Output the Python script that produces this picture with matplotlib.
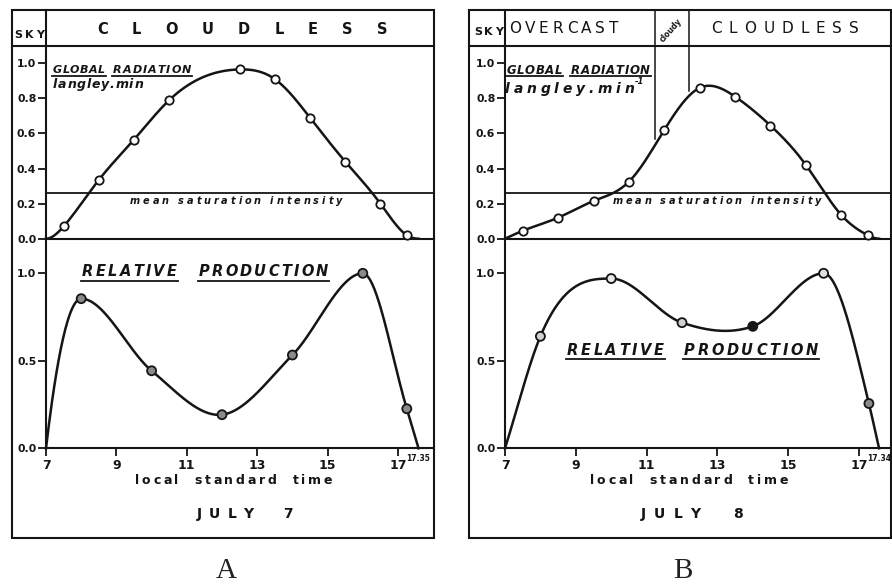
import numpy as np
import matplotlib
matplotlib.use("Agg")
import matplotlib.pyplot as plt
from matplotlib.lines import Line2D
from matplotlib.patches import Rectangle

W, H = 892, 587
INK = "#151515"

# ---- data ----
sunrise = 7.0
sunset_a = 17 + 35 / 60
sunset_b = 17 + 34 / 60
saturation = 0.26

rad_t_a = [7.5, 8.5, 9.5, 10.5, 12.5, 13.5, 14.5, 15.5, 16.5, 17.25]
rad_a = [0.07, 0.335, 0.565, 0.79, 0.965, 0.91, 0.69, 0.44, 0.20, 0.02]
prod_t_a = [8, 10, 12, 14, 16, 17.25]
prod_a = [0.855, 0.443, 0.192, 0.533, 1.0, 0.226]

rad_t_b = [7.5, 8.5, 9.5, 10.5, 11.5, 12.5, 13.5, 14.5, 15.5, 16.5, 17.25]
rad_b = [0.045, 0.12, 0.215, 0.325, 0.62, 0.86, 0.81, 0.645, 0.42, 0.135, 0.02]
prod_t_b = [8, 10, 12, 14, 16, 17.28]
prod_b = [0.64, 0.97, 0.718, 0.697, 1.0, 0.256]
cloudy_b = [11.25, 12.2]

xticks = [7, 9, 11, 13, 15, 17]
rad_ticks = [0.0, 0.2, 0.4, 0.6, 0.8, 1.0]
prod_ticks = [0.0, 0.5, 1.0]

plt.rcParams["font.family"] = "DejaVu Sans"
plt.rcParams["font.weight"] = "bold"

fig = plt.figure(figsize=(W / 100, H / 100), dpi=100)
fig.patch.set_facecolor("white")
renderer = fig.canvas.get_renderer()


def fx(x):
    return x / W


def fy(y):
    return 1 - y / H


def rect(x0, y0, x1, y1):
    return [x0 / W, 1 - y1 / H, (x1 - x0) / W, (y1 - y0) / H]


def spline(xk, yk, xs, d0=None, d1=None):
    # cubic spline, natural ends unless an end slope is given
    xk = np.asarray(xk, float)
    yk = np.asarray(yk, float)
    n = len(xk)
    h = np.diff(xk)
    A = np.zeros((n, n))
    b = np.zeros(n)
    for i in range(1, n - 1):
        A[i, i - 1] = h[i - 1]
        A[i, i] = 2 * (h[i - 1] + h[i])
        A[i, i + 1] = h[i]
        b[i] = 6 * ((yk[i + 1] - yk[i]) / h[i] - (yk[i] - yk[i - 1]) / h[i - 1])
    if d0 is None:
        A[0, 0] = 1
    else:
        A[0, 0], A[0, 1] = 2 * h[0], h[0]
        b[0] = 6 * ((yk[1] - yk[0]) / h[0] - d0)
    if d1 is None:
        A[-1, -1] = 1
    else:
        A[-1, -2], A[-1, -1] = h[-1], 2 * h[-1]
        b[-1] = 6 * (d1 - (yk[-1] - yk[-2]) / h[-1])
    M = np.linalg.solve(A, b)
    xs = np.asarray(xs, float)
    i = np.clip(np.searchsorted(xk, xs) - 1, 0, n - 2)
    hi = h[i]
    t0 = xk[i + 1] - xs
    t1 = xs - xk[i]
    return (M[i] * t0 ** 3 / (6 * hi) + M[i + 1] * t1 ** 3 / (6 * hi)
            + (yk[i] / hi - M[i] * hi / 6) * t0
            + (yk[i + 1] / hi - M[i + 1] * hi / 6) * t1)


def hermite(xk, yk, xs, k0=1.0):
    # piecewise cubic, flat at the local maxima, Bessel slopes elsewhere
    xk = np.asarray(xk, float)
    yk = np.asarray(yk, float)
    n = len(xk)
    h = np.diff(xk)
    d = np.diff(yk) / h
    m = np.zeros(n)
    for i in range(1, n - 1):
        if yk[i] >= yk[i - 1] and yk[i] >= yk[i + 1]:
            m[i] = 0.0
        else:
            m[i] = (h[i] * d[i - 1] + h[i - 1] * d[i]) / (h[i - 1] + h[i])
    m[0] = k0 * d[0]
    m[-1] = d[-1]
    xs = np.asarray(xs, float)
    i = np.clip(np.searchsorted(xk, xs) - 1, 0, n - 2)
    t = (xs - xk[i]) / h[i]
    h00 = 2 * t ** 3 - 3 * t ** 2 + 1
    h10 = t ** 3 - 2 * t ** 2 + t
    h01 = -2 * t ** 3 + 3 * t ** 2
    h11 = t ** 3 - t ** 2
    return h00 * yk[i] + h10 * h[i] * m[i] + h01 * yk[i + 1] + h11 * h[i] * m[i + 1]


def spread(s, x0, x1, yb, size, style="normal", weight="bold",
           underline=False, ul_gap=2.5, ul_lw=1.3):
    # letters spread evenly between x0 and x1 (pixels), baseline yb
    arts, widths = [], []
    for c in s:
        t = fig.text(0, fy(yb), c, fontsize=size, fontstyle=style,
                     fontweight=weight, ha="left", va="baseline", color=INK)
        w = size * 100 / 72 * 0.32 if c == " " else t.get_window_extent(renderer).width
        arts.append(t)
        widths.append(w)
    gap = (x1 - x0 - sum(widths)) / max(len(s) - 1, 1)
    x = x0
    words, start, end = [], None, x0
    for c, t, w in zip(s, arts, widths):
        t.set_x(fx(x))
        if c != " " and start is None:
            start = x
        if c == " " and start is not None:
            words.append((start, end))
            start = None
        if c != " ":
            end = x + w
        x += w + gap
    if start is not None:
        words.append((start, end))
    if underline:
        for a, b in words:
            fig.add_artist(Line2D([fx(a - 1), fx(b + 1)], [fy(yb + ul_gap)] * 2,
                                  lw=ul_lw, color=INK, transform=fig.transFigure))


def panel(box_l, box_r, ax_l, scale, rad_t, rad, prod_t, prod, sunset,
          rad_d0, prod_k0, prod_faces, sunset_label):
    top, sky_b, glob_b, prod_b_px, bottom = 10, 45.7, 238.7, 448.3, 537.5
    xmax = 7 + (box_r - ax_l) / scale

    fig.add_artist(Rectangle((fx(box_l), fy(bottom)), (box_r - box_l) / W,
                             (bottom - top) / H, fill=False, lw=1.5,
                             ec=INK, transform=fig.transFigure))
    fig.add_artist(Line2D([fx(box_l), fx(box_r)], [fy(sky_b)] * 2, lw=1.5,
                          color=INK, transform=fig.transFigure))

    sky = fig.add_axes(rect(ax_l, top, box_r, sky_b))
    glob = fig.add_axes(rect(ax_l, sky_b, box_r, glob_b))
    prd = fig.add_axes(rect(ax_l, glob_b, box_r, prod_b_px))
    for ax in (sky, glob, prd):
        ax.set_facecolor("none")
        ax.set_xlim(7, xmax)
        for side in ("top", "right"):
            ax.spines[side].set_visible(False)
        for sp in ax.spines.values():
            sp.set_linewidth(1.5)
            sp.set_color(INK)
    sky.spines["bottom"].set_visible(False)
    sky.set_xticks([])
    sky.set_yticks([])
    sky.set_ylim(0, 1)

    glob.set_ylim(0, (glob_b - sky_b) / 175.4)
    glob.set_xticks([])
    glob.set_yticks(rad_ticks, labels=[f"{v:.1f}" for v in rad_ticks])
    prd.set_ylim(0, (prod_b_px - glob_b) / 175.0)
    prd.set_yticks(prod_ticks, labels=[f"{v:.1f}" for v in prod_ticks])
    prd.set_xticks(xticks, labels=[str(v) for v in xticks])
    for ax in (glob, prd):
        ax.tick_params(axis="y", direction="out", length=6, width=1.3,
                       pad=1, labelsize=7.8, colors=INK)
    prd.tick_params(axis="x", direction="out", length=6, width=1.3,
                    pad=2, labelsize=9, colors=INK)

    # global radiation curve
    kx = [sunrise] + list(rad_t) + [sunset]
    ky = [0] + list(rad) + [0]
    xs = np.linspace(sunrise, sunset, 500)
    ys = np.maximum(spline(kx, ky, xs, d0=rad_d0, d1=0.0), 0)
    glob.plot(xs, ys, color=INK, lw=1.8, clip_on=False, zorder=3)
    glob.plot(rad_t, rad, "o", ms=6, mfc="white", mec=INK, mew=1.3,
              clip_on=False, zorder=4)
    glob.axhline(saturation, color=INK, lw=1.3)

    # relative production curve
    kx = [sunrise] + list(prod_t) + [sunset]
    ky = [0] + list(prod) + [0]
    ys = hermite(kx, ky, xs, k0=prod_k0)
    prd.plot(xs, ys, color=INK, lw=1.8, clip_on=False, zorder=3)
    prd.scatter(prod_t, prod, s=42, c=prod_faces, edgecolors=INK,
                linewidths=1.3, clip_on=False, zorder=4)

    prd.annotate(sunset_label, xy=(sunset, 0), xytext=(0, -7.5),
                 textcoords="offset points", ha="center", va="center",
                 fontsize=5.5, color=INK)
    return sky, glob, prd


# ---------------- panel A ----------------
skyA, globA, prdA = panel(12, 434, 46, 35.2, rad_t_a, rad_a, prod_t_a, prod_a,
                          sunset_a, 0.0, 2.0, ["#8a8a8a"] * len(prod_t_a), "17.35")
spread("SKY", 14, 44, 38, 8)
spread("CLOUDLESS", 97, 387, 33.5, 10.5)
spread("GLOBAL", 53, 105, 73.3, 8, style="italic", underline=True, ul_gap=2.4)
spread("RADIATION", 113, 191, 73.3, 8, style="italic", underline=True, ul_gap=2.4)
spread("langley.min", 53, 143, 88, 9, style="italic")
spread("mean saturation intensity", 130, 342, 204, 7, style="italic")
spread("RELATIVE", 82, 177, 276.5, 10.5, style="italic", underline=True, ul_gap=4)
spread("PRODUCTION", 199, 328, 276.5, 10.5, style="italic", underline=True, ul_gap=4)
spread("local  standard  time", 135, 332, 484.5, 9)
spread("JULY  7", 197, 293, 518, 10)
fig.text(fx(226), fy(578), "A", family="Liberation Serif", fontsize=21,
         fontweight="normal", ha="center", va="baseline", color="#222222")

# ---------------- panel B ----------------
skyB, globB, prdB = panel(469, 891, 505, 35.4, rad_t_b, rad_b, prod_t_b, prod_b,
                          sunset_b, None, 1.0,
                          ["#d0d0d0", "#e8e8e8", "#d0d0d0", INK, "#e0e0e0", "#8a8a8a"],
                          "17.34")
# cloudy interval dividers, down to the radiation curve
div_y = spline([sunrise] + rad_t_b + [sunset_b], [0] + rad_b + [0],
               cloudy_b, d1=0.0)
for xd, yd in zip(cloudy_b, div_y):
    skyB.axvline(xd, color=INK, lw=1.1)
    globB.plot([xd, xd], [yd + 0.03, globB.get_ylim()[1]], color=INK, lw=1.1)
spread("SKY", 474, 503, 35, 8)
spread("OVERCAST", 509, 618, 33.3, 11, weight="normal")
spread("CLOUDLESS", 711, 859, 33.3, 11, weight="normal")
fig.text(fx(670.5), fy(30), "cloudy", rotation=48, fontsize=5.5, ha="center",
         va="center", color=INK)
spread("GLOBAL", 507, 562, 74, 8.5, style="italic", underline=True, ul_gap=2.4)
spread("RADIATION", 571, 650, 74, 8.5, style="italic", underline=True, ul_gap=2.4)
spread("langley.min", 505, 634, 93, 10, style="italic")
fig.text(fx(635), fy(84), "-1", fontsize=6, fontstyle="italic", ha="left",
         va="baseline", color=INK)
spread("mean saturation intensity", 613, 821, 204, 7, style="italic")
spread("RELATIVE", 567, 664, 355, 10.5, style="italic", underline=True, ul_gap=4)
spread("PRODUCTION", 684, 818, 355, 10.5, style="italic", underline=True, ul_gap=4)
spread("local  standard  time", 590, 788, 484.5, 9)
spread("JULY  8", 641, 743, 518, 10)
fig.text(fx(683), fy(578), "B", family="Liberation Serif", fontsize=21,
         fontweight="normal", ha="center", va="baseline", color="#222222")

fig.savefig("out.png", dpi=100)
